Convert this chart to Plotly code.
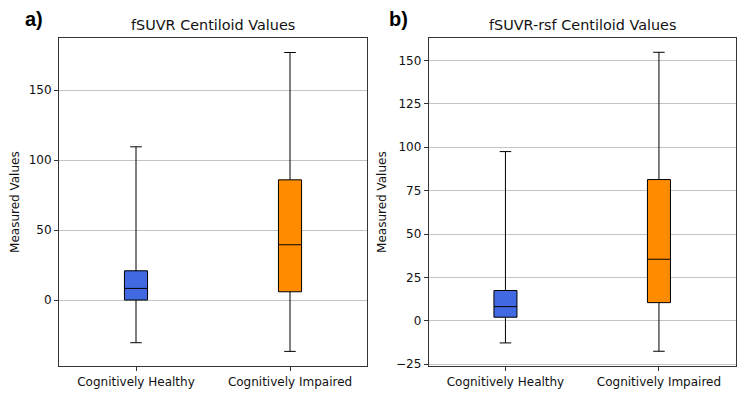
import plotly.graph_objects as go

categories = ["Cognitively Healthy", "Cognitively Impaired"]
colors = ["#4169E1", "#FF8C00"]

# Panel a) fSUVR
a_lower = [-30.5, -36.7]
a_q1 = [0.0, 5.9]
a_median = [8.3, 39.5]
a_q3 = [20.9, 85.9]
a_upper = [109.5, 176.9]

# Panel b) fSUVR-rsf
b_lower = [-12.7, -17.5]
b_q1 = [2.1, 10.5]
b_median = [8.2, 35.5]
b_q3 = [17.5, 81.4]
b_upper = [97.5, 154.7]

W, H = 745, 393
font_family = "DejaVu Sans"

fig = go.Figure()

def add_panel(lower, q1, med, q3, upper, xa, ya):
    for i, cat in enumerate(categories):
        fig.add_trace(go.Box(
            x=[cat], q1=[q1[i]], median=[med[i]], q3=[q3[i]],
            lowerfence=[lower[i]], upperfence=[upper[i]],
            fillcolor=colors[i], line=dict(color="black", width=1),
            width=0.15, whiskerwidth=0.5, boxpoints=False,
            xaxis=xa, yaxis=ya, showlegend=False, hoverinfo="skip",
        ))

add_panel(a_lower, a_q1, a_median, a_q3, a_upper, "x", "y")
add_panel(b_lower, b_q1, b_median, b_q3, b_upper, "x2", "y2")

def px_x(p):
    return p / W

def px_y(p):
    return 1 - ((p + 0.55) / 0.9878) / H

ydom = [px_y(366), px_y(37)]
axis_common = dict(
    showline=True, linecolor="#333333", linewidth=1, mirror=True,
    ticks="outside", ticklen=4, tickcolor="#333333", tickwidth=1,
    tickfont=dict(family=font_family, size=12, color="#111111"),
    zeroline=False,
)

fig.update_layout(
    width=W, height=H,
    margin=dict(l=0, r=0, t=0, b=0),
    paper_bgcolor="white", plot_bgcolor="white",
    boxmode="overlay",
    xaxis=dict(domain=[px_x(59), px_x(367)], anchor="y", type="category",
               categoryorder="array", categoryarray=categories,
               range=[-0.5, 1.5], showgrid=False, **axis_common),
    yaxis=dict(domain=ydom, anchor="x", range=[-47.4, 187.6],
               tickvals=[0, 50, 100, 150], showgrid=True,
               gridcolor="#c4c4c4", gridwidth=1, **axis_common),
    xaxis2=dict(domain=[px_x(428.7), px_x(735.7)], anchor="y2", type="category",
                categoryorder="array", categoryarray=categories,
                range=[-0.5, 1.5], showgrid=False, **axis_common),
    yaxis2=dict(domain=ydom, anchor="x2", range=[-26.2, 163.2],
                tickvals=[-25, 0, 25, 50, 75, 100, 125, 150], showgrid=True,
                gridcolor="#c4c4c4", gridwidth=1, **axis_common),
)

annotations = [
    dict(text="fSUVR Centiloid Values", x=px_x(213), y=px_y(24), size=14.4),
    dict(text="fSUVR-rsf Centiloid Values", x=px_x(582), y=px_y(24), size=14.4),
]
for a in annotations:
    fig.add_annotation(text=a["text"], x=a["x"], y=a["y"], xref="paper", yref="paper",
                       showarrow=False, xanchor="center", yanchor="middle",
                       font=dict(family=font_family, size=a["size"], color="#111111"))

for txt, x in [("a)", 34), ("b)", 398)]:
    fig.add_annotation(text="<b>%s</b>" % txt, x=px_x(x), y=px_y(18), xref="paper", yref="paper",
                       showarrow=False, xanchor="center", yanchor="middle",
                       font=dict(family="Liberation Sans", size=20, color="black"))

for x in [15, 382]:
    fig.add_annotation(text="Measured Values", x=px_x(x), y=px_y(201.5), xref="paper", yref="paper",
                       showarrow=False, xanchor="center", yanchor="middle", textangle=-90,
                       font=dict(family=font_family, size=12, color="#111111"))

fig.write_html("out.html", config={"displayModeBar": False},
               post_script="document.body.style.margin='0';document.body.style.overflow='hidden';")
